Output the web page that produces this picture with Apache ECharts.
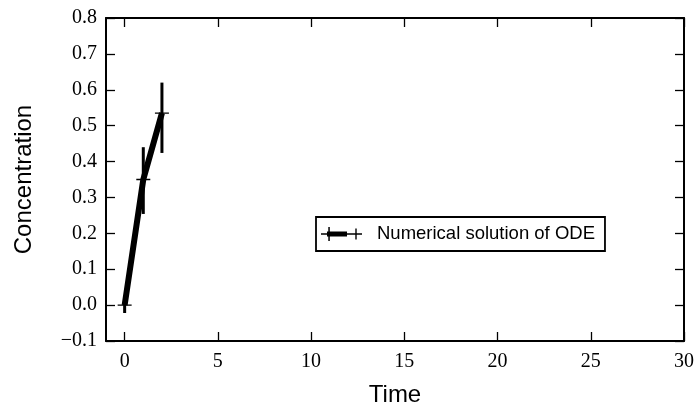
<!DOCTYPE html>
<html>
<head>
<meta charset="utf-8">
<script src="https://cdn.jsdelivr.net/npm/echarts@6/dist/echarts.min.js"></script>
<style>
html,body{margin:0;padding:0;background:#fff;}
#chart{width:697px;height:406px;}
</style>
</head>
<body>
<div id="chart"></div>
<script>
// ---- data ----
var times = [0, 1, 2];
var concentration = [0.0, 0.35, 0.535];
var errLow = [-0.022, 0.254, 0.424];
var errHigh = [0.022, 0.44, 0.62];
var xTicks = [0, 5, 10, 15, 20, 25, 30];
var yTicks = [-0.1, 0.0, 0.1, 0.2, 0.3, 0.4, 0.5, 0.6, 0.7, 0.8];
var seriesName = 'Numerical solution of ODE';

var lineData = times.map(function (t, i) { return [t, concentration[i]]; });
var errData = times.map(function (t, i) { return [t, errLow[i], errHigh[i]]; });

var plusPath = 'path://M0,6.3h14v1.4H0z M6.3,0h1.4v14H6.3z';
var legendPath = 'path://M0,6.3h41v1.4H0z M6,4.5h20v5H6z M7.3,0h1.5v14H7.3z M34.3,1.5h1.4v11h-1.4z M0,0 M51,14';

var axisLineStyle = {color: '#000', width: 2};
var tickStyle = {color: '#000', width: 1.3};
var serifFont = 'Liberation Serif';
var sansFont = 'Liberation Sans';

function fmtY(v) { return v.toFixed(1).replace('-', '\u2212'); }

var chart = echarts.init(document.getElementById('chart'), null, {renderer: 'canvas'});
chart.setOption({
  backgroundColor: '#fff',
  animation: false,
  grid: {left: 106, right: 13, top: 18, bottom: 65, containLabel: false, outerBoundsMode: 'none'},
  legend: {
    left: 316, top: 217,
    orient: 'horizontal',
    padding: [7, 10, 7, 5],
    borderColor: '#000', borderWidth: 1.8, borderRadius: 0,
    backgroundColor: '#fff',
    itemWidth: 51, itemHeight: 14,
    symbolKeepAspect: false,
    itemStyle: {color: '#000', borderWidth: 0},
    textStyle: {fontFamily: sansFont, fontSize: 18.5, color: '#000', lineHeight: 20},
    data: [{name: seriesName, icon: legendPath}]
  },
  xAxis: [{
    type: 'value', min: -1, max: 30, position: 'bottom',
    axisLine: {show: true, onZero: false, lineStyle: axisLineStyle},
    axisTick: {show: true, inside: true, length: 9, lineStyle: tickStyle, customValues: xTicks},
    axisLabel: {show: true, customValues: xTicks, margin: 11, fontFamily: serifFont, fontSize: 20, color: '#000'},
    splitLine: {show: false},
    name: 'Time', nameLocation: 'middle', nameGap: 42,
    nameTextStyle: {fontFamily: sansFont, fontSize: 24, color: '#000'}
  }, {
    type: 'value', min: -1, max: 30, position: 'top',
    axisLine: {show: true, onZero: false, lineStyle: axisLineStyle},
    axisTick: {show: true, inside: true, length: 9, lineStyle: tickStyle, customValues: xTicks},
    axisLabel: {show: false, customValues: xTicks},
    splitLine: {show: false}
  }],
  yAxis: [{
    type: 'value', min: -0.1, max: 0.8, position: 'left',
    axisLine: {show: true, onZero: false, lineStyle: axisLineStyle},
    axisTick: {show: true, inside: true, length: 9, lineStyle: tickStyle, customValues: yTicks},
    axisLabel: {show: true, customValues: yTicks, margin: 9, fontFamily: serifFont, fontSize: 20, color: '#000', formatter: fmtY},
    splitLine: {show: false},
    name: 'Concentration', nameLocation: 'middle', nameGap: 70,
    nameTextStyle: {fontFamily: sansFont, fontSize: 24, color: '#000'}
  }, {
    type: 'value', min: -0.1, max: 0.8, position: 'right',
    axisLine: {show: true, onZero: false, lineStyle: axisLineStyle},
    axisTick: {show: true, inside: true, length: 9, lineStyle: tickStyle, customValues: yTicks},
    axisLabel: {show: false, customValues: yTicks},
    splitLine: {show: false}
  }],
  series: [{
    name: seriesName,
    type: 'custom',
    xAxisIndex: 0, yAxisIndex: 0,
    encode: {x: 0, y: [1, 2]},
    data: errData,
    renderItem: function (params, api) {
      var p1 = api.coord([api.value(0), api.value(1)]);
      var p2 = api.coord([api.value(0), api.value(2)]);
      return {type: 'line', shape: {x1: p1[0], y1: p1[1], x2: p2[0], y2: p2[1]},
              style: {stroke: '#000', lineWidth: 3}};
    },
    z: 2
  }, {
    name: seriesName,
    type: 'line',
    xAxisIndex: 0, yAxisIndex: 0,
    data: lineData,
    lineStyle: {color: '#000', width: 6},
    itemStyle: {color: '#000', borderWidth: 0},
    symbol: plusPath,
    symbolSize: 14,
    showSymbol: true,
    z: 3
  }]
});
</script>
</body>
</html>
